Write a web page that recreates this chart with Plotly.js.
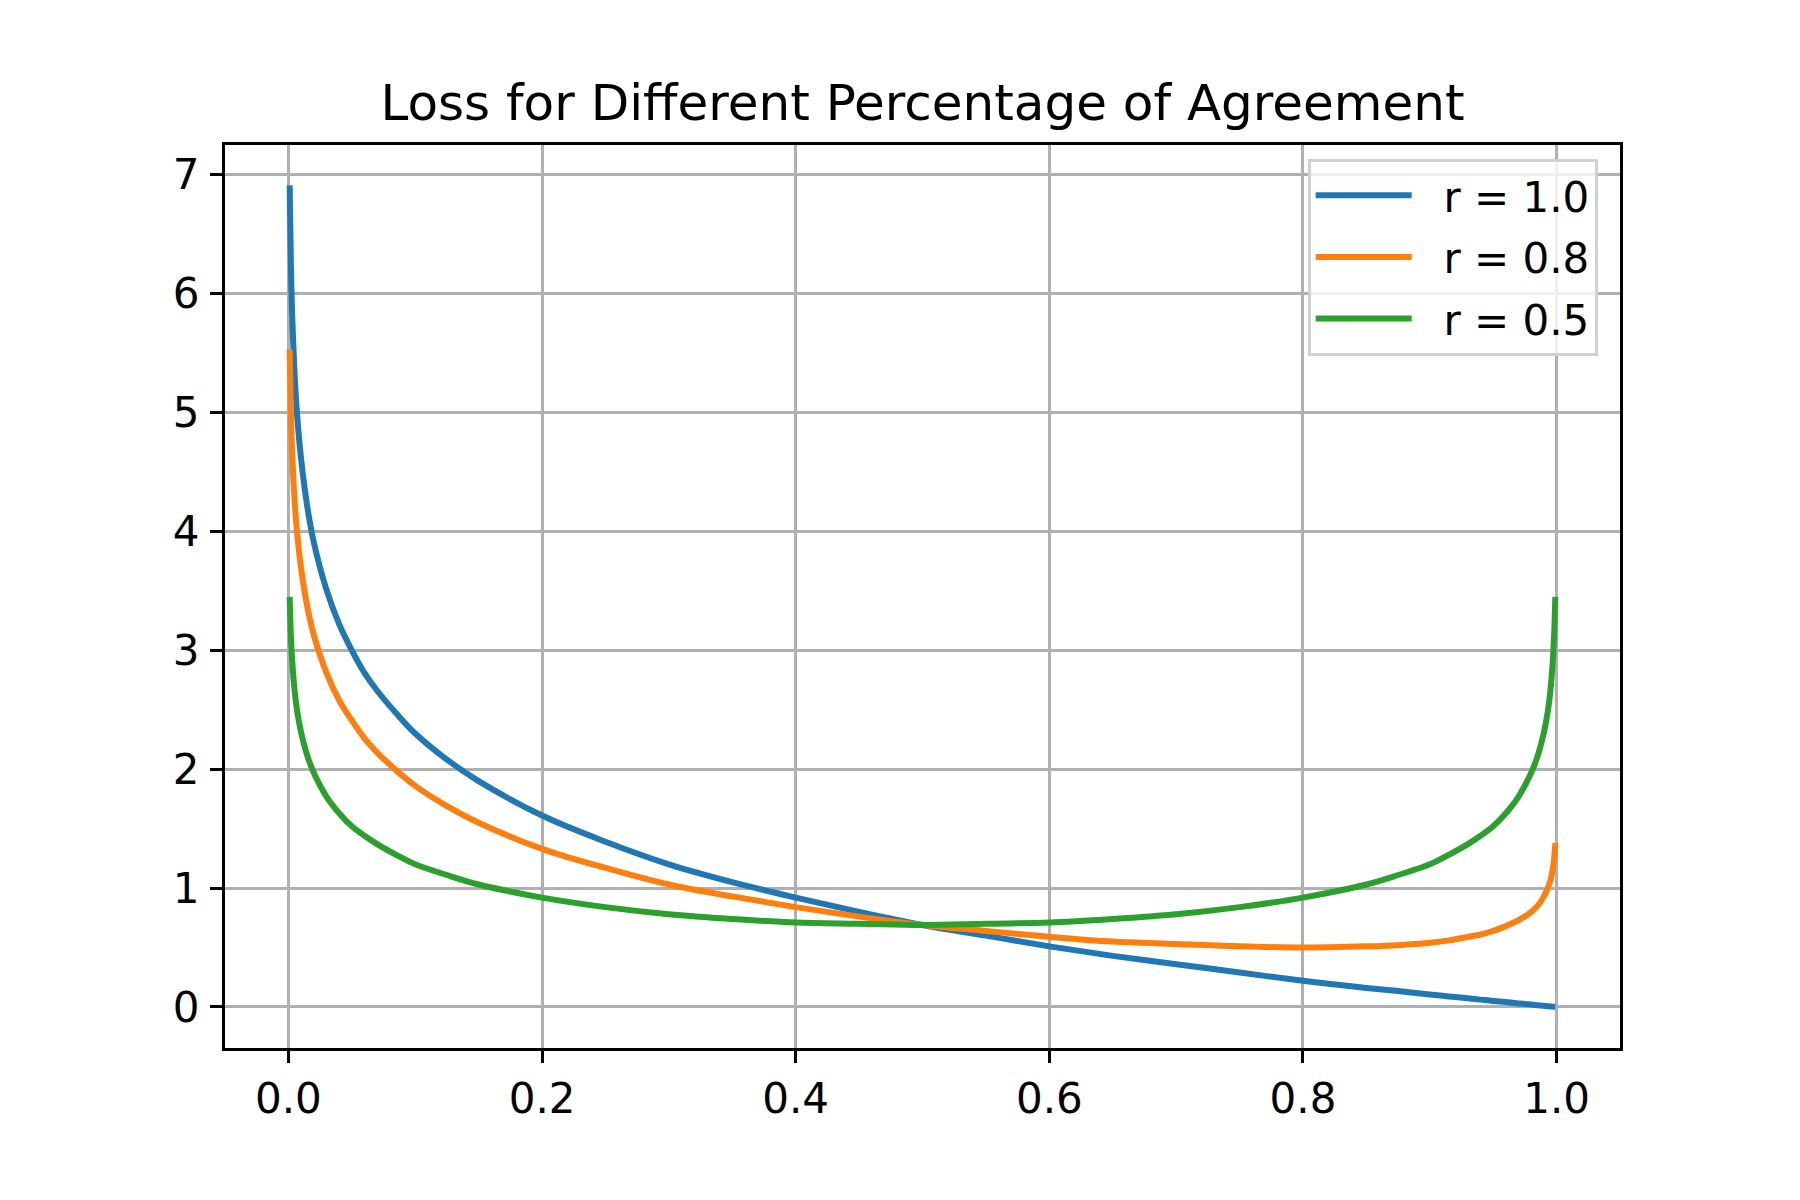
<!DOCTYPE html>
<html>
<head>
<meta charset="utf-8">
<script src="https://cdn.plot.ly/plotly-3.0.1.min.js"></script>
<style>
  body { margin: 0; background: #fff; }
  #chart { width: 1800px; height: 1200px; }
</style>
</head>
<body>
<div id="chart"></div>
<script>
// percentage of agreement (x) and the loss for each r
var agreement = [0.001, 0.002, 0.003, 0.005, 0.007, 0.01, 0.015, 0.02, 0.03, 0.04, 0.05, 0.06, 0.07, 0.085, 0.1, 0.125, 0.15,
                 0.2, 0.25, 0.3, 0.35, 0.4, 0.45, 0.5, 0.55, 0.6, 0.65, 0.7, 0.75, 0.8, 0.85,
                 0.875, 0.9, 0.915, 0.93, 0.94, 0.95, 0.96, 0.97, 0.98, 0.985, 0.99, 0.993, 0.995, 0.997, 0.998, 0.999];

var lossR10 = [6.91, 6.21, 5.81, 5.30, 4.96, 4.61, 4.20, 3.91, 3.51, 3.22, 3.00, 2.81, 2.66, 2.47, 2.30, 2.08, 1.90,
               1.61, 1.39, 1.20, 1.05, 0.92, 0.80, 0.69, 0.60, 0.51, 0.43, 0.36, 0.29, 0.22, 0.16,
               0.134, 0.105, 0.089, 0.073, 0.062, 0.051, 0.041, 0.030, 0.020, 0.015, 0.010, 0.007, 0.005, 0.003, 0.002, 0.001];

var lossR08 = [5.53, 4.97, 4.65, 4.24, 3.97, 3.69, 3.36, 3.13, 2.81, 2.58, 2.41, 2.26, 2.14, 1.99, 1.86, 1.69, 1.55,
               1.33, 1.17, 1.03, 0.93, 0.84, 0.76, 0.69, 0.64, 0.59, 0.55, 0.53, 0.51, 0.50, 0.51,
               0.52, 0.54, 0.56, 0.59, 0.61, 0.64, 0.68, 0.73, 0.80, 0.85, 0.93, 1.00, 1.06, 1.16, 1.24, 1.38];

var lossR05 = [3.45, 3.11, 2.91, 2.65, 2.48, 2.31, 2.11, 1.97, 1.77, 1.63, 1.52, 1.44, 1.37, 1.28, 1.20, 1.11, 1.03,
               0.92, 0.84, 0.78, 0.74, 0.71, 0.70, 0.69, 0.70, 0.71, 0.74, 0.78, 0.84, 0.92, 1.03,
               1.11, 1.20, 1.28, 1.37, 1.44, 1.52, 1.63, 1.77, 1.97, 2.11, 2.31, 2.48, 2.65, 2.91, 3.11, 3.45];

var seriesNames = ['r = 1.0', 'r = 0.8', 'r = 0.5'];
var seriesColors = ['#1f77b4', '#ff7f0e', '#2ca02c'];

var xTicks = [0, 0.2, 0.4, 0.6, 0.8, 1.0];
var xTickText = ['0.0', '0.2', '0.4', '0.6', '0.8', '1.0'];
var yTicks = [0, 1, 2, 3, 4, 5, 6, 7];

var allLosses = [lossR10, lossR08, lossR05];
var data = [];
for (var i = 0; i < allLosses.length; i++) {
    data.push({
        type: 'scatter',
        mode: 'lines',
        x: agreement,
        y: allLosses[i],
        // small gap between the legend line and its label, like the original
        name: '\u00a0\u00a0' + seriesNames[i],
        legendgroup: 'g' + i,
        line: { color: seriesColors[i], width: 6, shape: 'spline', smoothing: 1 }
    });
}

var font = 'DejaVu Sans, sans-serif';

var axisStyle = {
    showline: true,
    mirror: true,
    linecolor: '#000',
    linewidth: 3,
    showgrid: true,
    gridcolor: '#b0b0b0',
    gridwidth: 3,
    zeroline: false,
    ticks: 'outside',
    ticklen: 12,
    tickwidth: 3,
    tickcolor: '#000',
    tickfont: { family: font, size: 42, color: '#000' }
};

var layout = {
    width: 1800,
    height: 1200,
    paper_bgcolor: '#fff',
    plot_bgcolor: '#fff',
    margin: { l: 225, r: 180, t: 145, b: 152 },
    title: {
        text: 'Loss for Different Percentage of Agreement',
        font: { family: font, size: 50, color: '#000' },
        x: 0.5, xref: 'paper',
        y: 0.915, yref: 'container', yanchor: 'middle'
    },
    xaxis: Object.assign({}, axisStyle, {
        range: [-0.05, 1.05],
        tickvals: xTicks,
        ticktext: xTickText,
        ticklabelstandoff: 0
    }),
    yaxis: Object.assign({}, axisStyle, {
        range: [-0.345, 7.25],
        tickvals: yTicks,
        ticklabelstandoff: 2
    }),
    showlegend: true,
    legend: {
        x: 0.984, y: 0.985,
        xanchor: 'right', yanchor: 'top',
        bgcolor: 'rgba(255,255,255,0.8)',
        bordercolor: '#d0d0d0',
        borderwidth: 3,
        font: { family: font, size: 42, color: '#000' },
        traceorder: 'grouped',
        tracegroupgap: 4,
        itemwidth: 96
    }
};

Plotly.newPlot('chart', data, layout, { displayModeBar: false });
</script>
</body>
</html>
